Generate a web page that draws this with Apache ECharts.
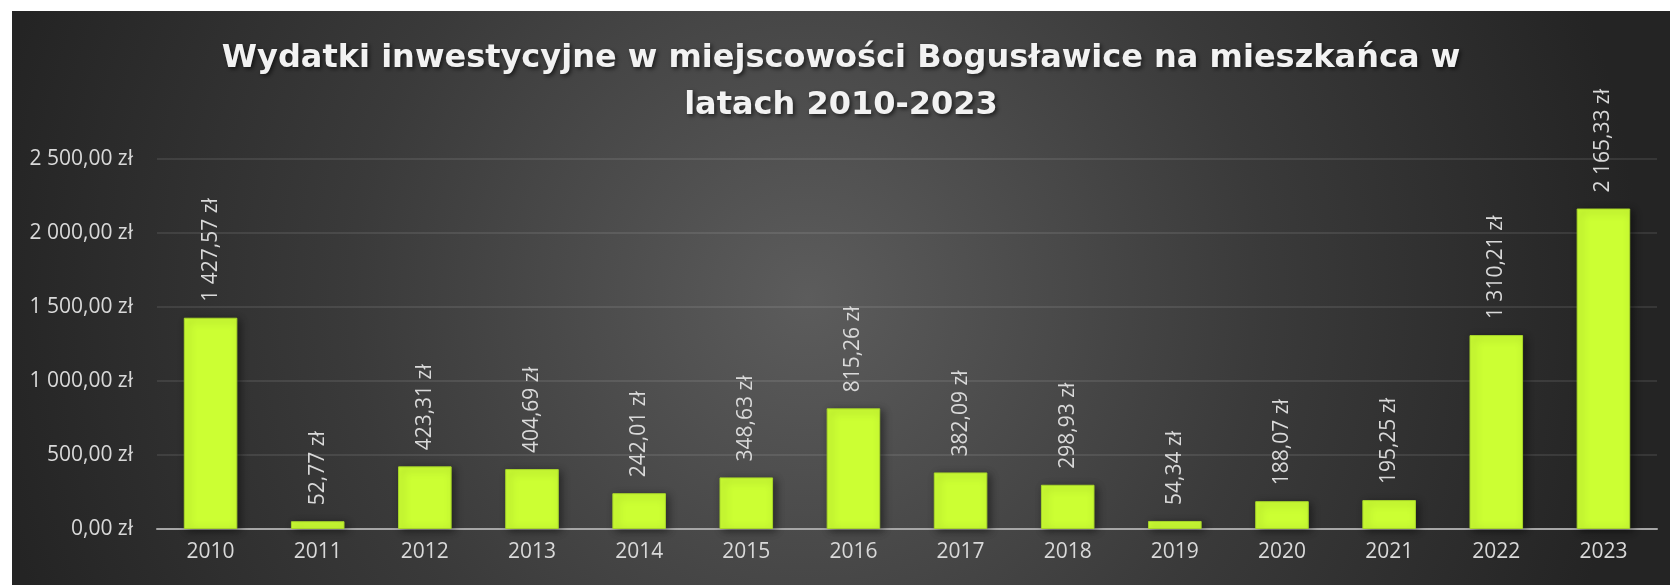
<!DOCTYPE html>
<html><head><meta charset="utf-8">
<script src="https://cdn.jsdelivr.net/npm/echarts@6/dist/echarts.min.js"></script>
<style>html,body{margin:0;padding:0;background:#fff}#c{width:1670px;height:585px}</style>
</head><body><div id="c"></div>
<script>
const titleText = 'Wydatki inwestycyjne w miejscowości Bogusławice na mieszkańca w\nlatach 2010-2023';
const categories = ['2010','2011','2012','2013','2014','2015','2016','2017','2018','2019','2020','2021','2022','2023'];
const values = [1427.57, 52.77, 423.31, 404.69, 242.01, 348.63, 815.26, 382.09, 298.93, 54.34, 188.07, 195.25, 1310.21, 2165.33];
const yTicks = [0, 500, 1000, 1500, 2000, 2500];

function fmt(v, dec) {
  const s = v.toFixed(dec);
  let [i, d] = s.split('.');
  i = i.replace(/\B(?=(\d{3})+(?!\d))/g, ' ');
  return i + ',' + d + ' zł';
}

const chart = echarts.init(document.getElementById('c'), null, {renderer: 'canvas'});
chart.setOption({
  backgroundColor: '#ffffff',
  animation: false,
  graphic: [{
    type: 'rect', z: -10, silent: true,
    shape: {x: 12, y: 11, width: 1658, height: 574},
    style: {
      fill: {
        type: 'radial', x: 0.48, y: 0.5, r: 1.45,
        colorStops: [{offset: 0, color: '#5c5c5c'}, {offset: 0.55, color: '#3a3a3a'}, {offset: 1, color: '#242424'}]
      }
    }
  }],
  title: {
    text: titleText,
    left: 836, top: 30, textAlign: 'center',
    textStyle: {
      color: '#f2f2f2', fontFamily: 'DejaVu Sans', fontWeight: 'bold', fontSize: 32, lineHeight: 47,
      textShadowColor: 'rgba(0,0,0,0.6)', textShadowBlur: 4, textShadowOffsetX: 2, textShadowOffsetY: 2
    }
  },
  grid: {left: 157, right: 13, top: 159, bottom: 56, containLabel: false},
  xAxis: {
    type: 'category', data: categories,
    axisLine: {lineStyle: {color: '#a6a6a6', width: 2}},
    axisTick: {show: false},
    axisLabel: {color: '#d9d9d9', fontFamily: 'Open Sans', fontSize: 21, margin: 13}
  },
  yAxis: {
    type: 'value', min: 0, max: 2500, interval: 500,
    axisLine: {show: false}, axisTick: {show: false},
    splitLine: {lineStyle: {color: 'rgba(255,255,255,0.12)', width: 1.5}},
    axisLabel: {color: '#d9d9d9', fontFamily: 'Open Sans', fontSize: 21, margin: 24,
      formatter: v => yTicks.includes(v) ? fmt(v, 2) : ''}
  },
  series: [{
    type: 'bar', data: values, barWidth: '50%',
    itemStyle: {color: '#ccff33', borderColor: '#a8d62a', borderWidth: 1,
      shadowColor: 'rgba(0,0,0,0.45)', shadowBlur: 8, shadowOffsetX: 3, shadowOffsetY: 2},
    label: {
      show: true, position: 'top', rotate: 90, align: 'left', verticalAlign: 'middle', distance: 16,
      color: '#d9d9d9', fontFamily: 'Open Sans', fontSize: 21,
      formatter: p => fmt(p.value, 2)
    }
  }]
});
</script></body></html>
